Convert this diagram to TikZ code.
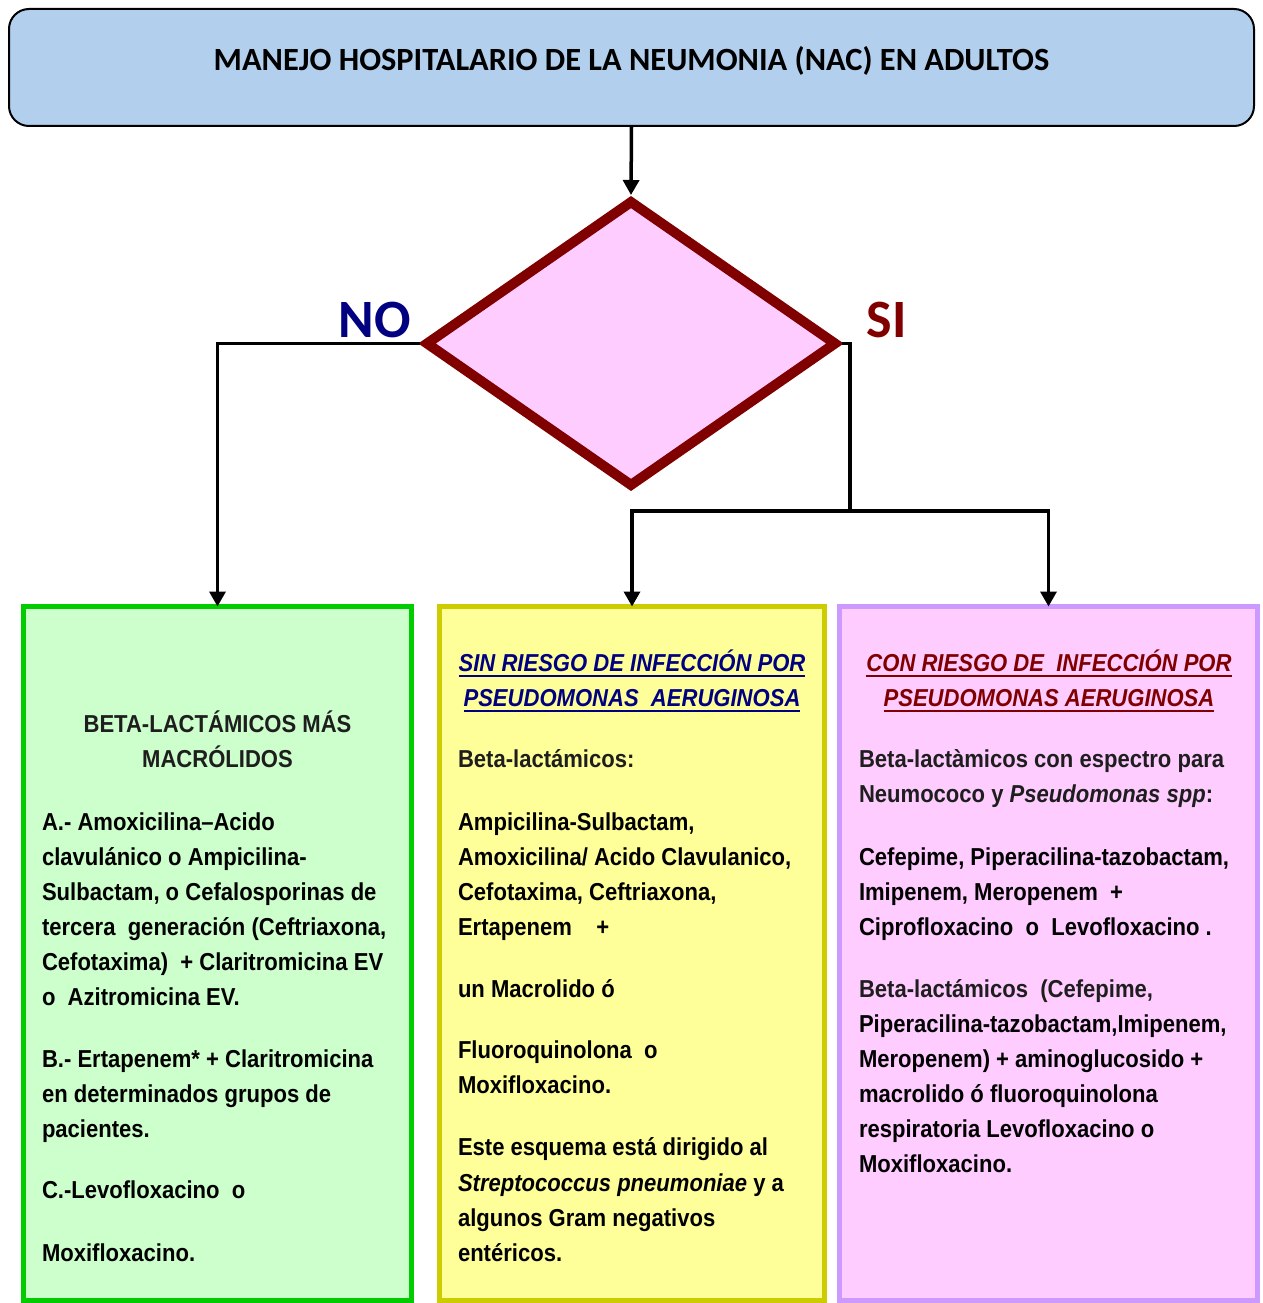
\documentclass[tikz,border=0pt]{standalone}
\usepackage{fontspec}
\setmainfont{Liberation Sans}
\newfontfamily\bodyfont{Liberation Sans}[FakeStretch=0.9]
\newfontfamily\titlefont{Carlito}
\usetikzlibrary{shapes.geometric,arrows.meta}
\definecolor{tblue}{RGB}{178,208,238}
\definecolor{dred}{RGB}{128,0,0}
\definecolor{navy}{RGB}{0,0,128}
\definecolor{dpink}{RGB}{255,204,255}
\definecolor{gfill}{RGB}{204,255,204}
\definecolor{gline}{RGB}{0,204,0}
\definecolor{yfill}{RGB}{255,255,153}
\definecolor{yline}{RGB}{204,204,0}
\definecolor{pline}{RGB}{204,153,255}
\definecolor{dgray}{RGB}{30,30,30}
\tikzset{
  titlebox/.style={rectangle, rounded corners=20pt, draw=black, line width=2pt, fill=tblue,
    minimum width=1245pt, minimum height=117pt, inner sep=0pt, outer sep=0pt},
  titletxt/.style={anchor=base, inner sep=0pt, font=\titlefont\bfseries\fontsize{32.4}{38}\selectfont},
  yesno/.style={anchor=base, inner sep=0pt, font=\titlefont\bfseries\fontsize{54}{60}\selectfont},
  diam/.style={diamond, draw=dred, fill=dpink, line width=10pt, minimum width=412pt,
    minimum height=287pt, inner sep=0pt},
  colbox/.style={rectangle, line width=5pt, anchor=north west, minimum height=694pt, inner sep=0pt, outer sep=0pt},
  conn/.style={line width=3.5pt, draw=black, -{Triangle[width=16pt,length=15pt]}},
  plain/.style={line width=3.5pt, draw=black},
  txt/.style={anchor=base west, inner sep=0pt, outer sep=0pt,
    font=\bodyfont\bfseries\fontsize{24.5}{35}\selectfont},
  ctxt/.style={txt, anchor=base},
  hdr/.style={ctxt, font=\bodyfont\bfseries\itshape\fontsize{24.5}{35}\selectfont},
  ul/.style={line width=2pt}
}
\begin{document}
\begin{tikzpicture}[x=1pt,y=-1pt]
\useasboundingbox (0,0) rectangle (1262,1303);
% title
\node[titlebox] (title) at (631.5,67.5) {};
\node[titletxt] (ttl) at (631.5,71) {MANEJO HOSPITALARIO DE LA NEUMONIA (NAC) EN ADULTOS};
% decision
\node[diam] (dia) at (631,343.5) {};
\node[yesno, text=navy] (no) at (374.5,337) {NO};
\node[yesno, text=dred] (si) at (886.5,337) {SI};
% boxes
\node[colbox, draw=gline, fill=gfill, minimum width=388pt] (green) at (23.5,606.5) {};
\node[colbox, draw=yline, fill=yfill, minimum width=385pt] (yellow) at (439.5,606.5) {};
\node[colbox, draw=pline, fill=dpink, minimum width=418pt] (purple) at (839.5,606.5) {};
% connectors
\draw[conn] (title.south) -- (dia.north);
\draw[conn] (dia.west) -| (green.north);
\coordinate (sj) at (850,511);
\draw[plain] (dia.east) -| (sj);
\draw[conn] (sj) -| (yellow.north);
\draw[conn] (sj) -| (purple.north);
% green text
\node[ctxt, text=dgray] (gh1) at (217.5,732) {BETA-LACTÁMICOS MÁS};
\node[ctxt, text=dgray] (gh2) at (217.5,767) {MACRÓLIDOS};
\node[txt] (g1) at (42,830) {A.- Amoxicilina–Acido};
\node[txt] (g2) at (42,865) {clavulánico o Ampicilina-};
\node[txt] (g3) at (42,900) {Sulbactam, o Cefalosporinas de};
\node[txt] (g4) at (42,935) {tercera~ generación (Ceftriaxona,};
\node[txt] (g5) at (42,970) {Cefotaxima)~ + Claritromicina EV};
\node[txt] (g6) at (42,1005) {o~ Azitromicina EV.};
\node[txt] (g7) at (42,1067) {B.- Ertapenem* + Claritromicina};
\node[txt] (g8) at (42,1102) {en determinados grupos de};
\node[txt] (g9) at (42,1137) {pacientes.};
\node[txt] (g10) at (42,1198) {C.-Levofloxacino~ o};
\node[txt] (g11) at (42,1261) {Moxifloxacino.};
% yellow text
\node[hdr, text=navy] (yh1) at (632,671) {SIN RIESGO DE INFECCIÓN POR};
\node[hdr, text=navy] (yh2) at (632,706) {PSEUDOMONAS~ AERUGINOSA};
\draw[ul, navy] ([yshift=-5pt]yh1.base west) -- ([yshift=-5pt]yh1.base east);
\draw[ul, navy] ([yshift=-5pt]yh2.base west) -- ([yshift=-5pt]yh2.base east);
\node[txt, text=dgray] (y1) at (458,767) {Beta-lactámicos:};
\node[txt] (y2) at (458,830) {Ampicilina-Sulbactam,};
\node[txt] (y3) at (458,865) {Amoxicilina/ Acido Clavulanico,};
\node[txt] (y4) at (458,900) {Cefotaxima, Ceftriaxona,};
\node[txt] (y5) at (458,935) {Ertapenem~~~ +};
\node[txt] (y6) at (458,997) {un Macrolido ó};
\node[txt] (y7) at (458,1058) {Fluoroquinolona~ o};
\node[txt] (y8) at (458,1093) {Moxifloxacino.};
\node[txt] (y9) at (458,1155) {Este esquema está dirigido al};
\node[txt] (y10) at (458,1191) {\textit{Streptococcus pneumoniae} y a};
\node[txt] (y11) at (458,1226) {algunos Gram negativos};
\node[txt] (y12) at (458,1261) {entéricos.};
% purple text
\node[hdr, text=dred] (ph1) at (1049,671) {CON RIESGO DE~ INFECCIÓN POR};
\node[hdr, text=dred] (ph2) at (1049,706) {PSEUDOMONAS AERUGINOSA};
\draw[ul, dred] ([yshift=-5pt]ph1.base west) -- ([yshift=-5pt]ph1.base east);
\draw[ul, dred] ([yshift=-5pt]ph2.base west) -- ([yshift=-5pt]ph2.base east);
\node[txt, text=dgray] (p1) at (859,767) {Beta-lactàmicos con espectro para};
\node[txt, text=dgray] (p2) at (859,802) {Neumococo y \textit{Pseudomonas spp}:};
\node[txt] (p3) at (859,865) {Cefepime, Piperacilina-tazobactam,};
\node[txt] (p4) at (859,900) {Imipenem, Meropenem~ +};
\node[txt] (p5) at (859,935) {Ciprofloxacino~ o~ Levofloxacino .};
\node[txt, text=dgray] (p6) at (859,997) {Beta-lactámicos~ (Cefepime,};
\node[txt] (p7) at (859,1032) {Piperacilina-tazobactam,Imipenem,};
\node[txt] (p8) at (859,1067) {Meropenem) + aminoglucosido +};
\node[txt] (p9) at (859,1102) {macrolido ó fluoroquinolona};
\node[txt] (p10) at (859,1137) {respiratoria Levofloxacino o};
\node[txt] (p11) at (859,1172) {Moxifloxacino.};
\end{tikzpicture}
\end{document}
